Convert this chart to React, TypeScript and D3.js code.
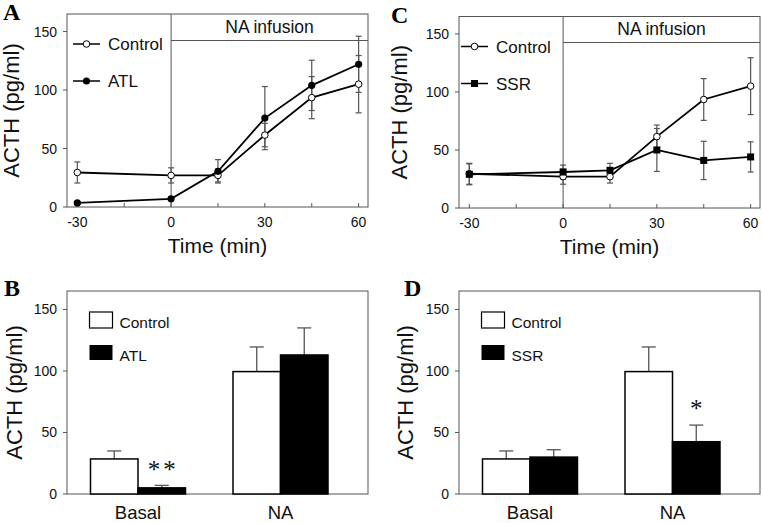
import { scaleLinear, scalePoint, line } from "d3";

// time course (min)
const times = [-30, 0, 15, 30, 45, 60];
const xMajor = [-30, 0, 30, 60];
const xMinor = [-15, 15, 45];
const yTicks = [0, 50, 100, 150];

const ctrlMean = [29.5, 27, 27, 61.5, 93.5, 105];
const ctrlErr = [9, 6.5, 5.5, 10, 18, 24.5];
const atlMean = [3.5, 7, 30.5, 76, 104, 122];
const atlErr = [1, 1.5, 10, 27, 21.5, 24];
const ssrMean = [29, 31, 32.5, 50, 41, 44];
const ssrErr = [9, 6, 6, 18.5, 16.5, 13];

// bar panels
const groups = ["Basal", "NA"];
const barCtrl = [28.5, 99.5];
const barCtrlErr = [6.5, 20];
const barAtl = [5, 113];
const barAtlErr = [2, 22];
const barSsr = [30, 42.5];
const barSsrErr = [6, 13.5];

const SANS = "'Liberation Sans', Arial, Helvetica, sans-serif";
const SERIF = "'Liberation Serif', 'Times New Roman', serif";
const FRAME = "#555";
const ERR = "#555";
const INK = "#111";

type Box = { x0: number; x1: number; y0: number; y1: number };

const YAxis = ({ box, y, labelX }: { box: Box; y: any; labelX: number }) => (
  <g>
    {yTicks.map((t) => (
      <g key={t}>
        <line x1={box.x0 - 4} x2={box.x0} y1={y(t)} y2={y(t)} stroke={FRAME} />
        <text x={box.x0 - 10} y={y(t) + 5} textAnchor="end" fontSize={14} fill={INK} fontFamily={SANS}>
          {t}
        </text>
      </g>
    ))}
    <text
      transform={`translate(${labelX},${(box.y0 + box.y1) / 2}) rotate(-90)`}
      textAnchor="middle"
      fontSize={22}
      fill={INK}
      fontFamily={SANS}
    >
      ACTH (pg/ml)
    </text>
  </g>
);

type Series = { mean: number[]; err: number[]; marker: "open" | "dot" | "square"; name: string };

const Marker = ({ kind, cx, cy }: { kind: string; cx: number; cy: number }) => {
  if (kind === "square") return <rect x={cx - 3.5} y={cy - 3.5} width={7} height={7} fill="#000" />;
  if (kind === "dot") return <circle cx={cx} cy={cy} r={3.6} fill="#000" />;
  return <circle cx={cx} cy={cy} r={3.3} fill="#fff" stroke="#000" strokeWidth={1} />;
};

const LinePanel = ({
  box,
  letter,
  letterX,
  labelX,
  legendX,
  infusionY,
  series,
}: {
  box: Box;
  letter: string;
  letterX: number;
  labelX: number;
  legendX: number;
  infusionY: number;
  series: Series[];
}) => {
  const x = scaleLinear().domain([-33.3, 63]).range([box.x0, box.x1]);
  const y = scaleLinear().domain([0, 165]).range([box.y1, box.y0]);
  const path = line<number>()
    .x((_, i) => x(times[i]))
    .y((d) => y(d));
  return (
    <g>
      <text x={letterX} y={box.y0 + 6} fontSize={24} fontWeight="bold" fontFamily={SERIF} fill="#000">
        {letter}
      </text>
      <rect x={box.x0} y={box.y0} width={box.x1 - box.x0} height={box.y1 - box.y0} fill="none" stroke={FRAME} />
      <line x1={x(0)} x2={x(0)} y1={box.y0} y2={box.y1} stroke={FRAME} />
      <line x1={x(0)} x2={box.x1} y1={infusionY} y2={infusionY} stroke={FRAME} />
      <text x={(x(0) + box.x1) / 2} y={infusionY - 8} textAnchor="middle" fontSize={17.5} fill={INK} fontFamily={SANS}>
        NA infusion
      </text>
      {[...xMajor, ...xMinor].map((t) => (
        <line key={t} x1={x(t)} x2={x(t)} y1={box.y1} y2={box.y1 - 4} stroke={FRAME} />
      ))}
      {xMajor.map((t) => (
        <text key={t} x={x(t)} y={box.y1 + 20} textAnchor="middle" fontSize={14} fill={INK} fontFamily={SANS}>
          {t}
        </text>
      ))}
      <text x={(box.x0 + box.x1) / 2} y={box.y1 + 46} textAnchor="middle" fontSize={21} fill={INK} fontFamily={SANS}>
        Time (min)
      </text>
      <YAxis box={box} y={y} labelX={labelX} />
      {series.map((s) => (
        <g key={s.name + "e"}>
          {s.mean.map((m, i) => (
            <g key={i} stroke={ERR} strokeWidth={1.2}>
              <line x1={x(times[i])} x2={x(times[i])} y1={y(m - s.err[i])} y2={y(m + s.err[i])} />
              <line x1={x(times[i]) - 3} x2={x(times[i]) + 3} y1={y(m + s.err[i])} y2={y(m + s.err[i])} />
              <line x1={x(times[i]) - 3} x2={x(times[i]) + 3} y1={y(m - s.err[i])} y2={y(m - s.err[i])} />
            </g>
          ))}
        </g>
      ))}
      {series.map((s) => (
        <path key={s.name + "l"} d={path(s.mean) || ""} fill="none" stroke="#000" strokeWidth={1.8} />
      ))}
      {series.map((s) => (
        <g key={s.name + "m"}>
          {s.mean.map((m, i) => (
            <Marker key={i} kind={s.marker} cx={x(times[i])} cy={y(m)} />
          ))}
        </g>
      ))}
      {series.map((s, k) => {
        const ly = box.y0 + 30 + k * 37;
        return (
          <g key={s.name + "g"}>
            <line x1={legendX} x2={legendX + 27} y1={ly} y2={ly} stroke="#000" strokeWidth={1.5} />
            <Marker kind={s.marker} cx={legendX + 13.5} cy={ly} />
            <text x={legendX + 35} y={ly + 6} fontSize={17} fill={INK} fontFamily={SANS}>
              {s.name}
            </text>
          </g>
        );
      })}
    </g>
  );
};

const BarPanel = ({
  box,
  letter,
  letterX,
  labelX,
  treat,
  treatErr,
  treatName,
  star,
  starIdx,
  starFor,
}: {
  box: Box;
  letter: string;
  letterX: number;
  labelX: number;
  treat: number[];
  treatErr: number[];
  treatName: string;
  star: string;
  starIdx: number;
  starFor: number;
}) => {
  const x = scalePoint<string>().domain(groups).range([box.x0 + 71, box.x0 + 213.5]);
  const y = scaleLinear().domain([0, 165]).range([box.y1, box.y0]);
  const bw = 47.5;
  const bars = [
    { vals: barCtrl, errs: barCtrlErr, fill: "#fff", off: -bw },
    { vals: treat, errs: treatErr, fill: "#000", off: 0 },
  ];
  return (
    <g>
      <text x={letterX} y={box.y0 + 5} fontSize={24} fontWeight="bold" fontFamily={SERIF} fill="#000">
        {letter}
      </text>
      <rect x={box.x0} y={box.y0} width={box.x1 - box.x0} height={box.y1 - box.y0} fill="none" stroke={FRAME} />
      <YAxis box={box} y={y} labelX={labelX} />
      {bars.map((b, k) =>
        groups.map((g, i) => {
          const bx = (x(g) as number) + b.off;
          const top = y(b.vals[i]);
          const et = y(b.vals[i] + b.errs[i]);
          const cx = bx + bw / 2;
          return (
            <g key={k + g}>
              <line x1={cx} x2={cx} y1={top} y2={et} stroke={ERR} strokeWidth={1.3} />
              <line x1={cx - 7} x2={cx + 7} y1={et} y2={et} stroke={ERR} strokeWidth={1.3} />
              <rect x={bx} y={top} width={bw} height={box.y1 - top} fill={b.fill} stroke="#000" strokeWidth={1.5} />
            </g>
          );
        })
      )}
      {groups.map((g) => (
        <text key={g} x={x(g)} y={box.y1 + 25} textAnchor="middle" fontSize={18.5} fill={INK} fontFamily={SANS}>
          {g}
        </text>
      ))}
      <text
        x={(x(groups[starIdx]) as number) + bw / 2 + (star.length > 1 ? 1.5 : 0)}
        y={y(treat[starIdx] + treatErr[starIdx]) - starFor}
        textAnchor="middle"
        fontSize={25}
        letterSpacing={star.length > 1 ? 3 : 0}
        fill={INK}
        fontFamily={SERIF}
      >
        {star}
      </text>
      <rect x={box.x0 + 22.5} y={box.y0 + 21} width={23} height={16} fill="#fff" stroke="#000" strokeWidth={1.2} />
      <text x={box.x0 + 52.5} y={box.y0 + 37} fontSize={15.5} fill={INK} fontFamily={SANS}>
        Control
      </text>
      <rect x={box.x0 + 22.5} y={box.y0 + 54} width={23} height={15} fill="#000" />
      <text x={box.x0 + 52.5} y={box.y0 + 70} fontSize={15.5} fill={INK} fontFamily={SANS}>
        {treatName}
      </text>
    </g>
  );
};

export default function App() {
  const ctrl: Series = { mean: ctrlMean, err: ctrlErr, marker: "open", name: "Control" };
  return (
    <svg width={762} height={523} style={{ position: "absolute", left: 0, top: 0, background: "#fff" }}>
      <LinePanel
        box={{ x0: 67, x1: 368, y0: 14, y1: 207 }}
        letter="A"
        letterX={3}
        labelX={19}
        legendX={73}
        infusionY={40.5}
        series={[ctrl, { mean: atlMean, err: atlErr, marker: "dot", name: "ATL" }]}
      />
      <LinePanel
        box={{ x0: 459, x1: 760, y0: 16.5, y1: 208 }}
        letter="C"
        letterX={391}
        labelX={407}
        legendX={461}
        infusionY={42.5}
        series={[ctrl, { mean: ssrMean, err: ssrErr, marker: "square", name: "SSR" }]}
      />
      <BarPanel
        box={{ x0: 67, x1: 368, y0: 291, y1: 494 }}
        letter="B"
        letterX={4}
        labelX={22}
        treat={barAtl}
        treatErr={barAtlErr}
        treatName="ATL"
        star="**"
        starIdx={0}
        starFor={7}
      />
      <BarPanel
        box={{ x0: 459, x1: 760, y0: 291, y1: 494 }}
        letter="D"
        letterX={404}
        labelX={413}
        treat={barSsr}
        treatErr={barSsrErr}
        treatName="SSR"
        star="*"
        starIdx={1}
        starFor={8}
      />
    </svg>
  );
}
